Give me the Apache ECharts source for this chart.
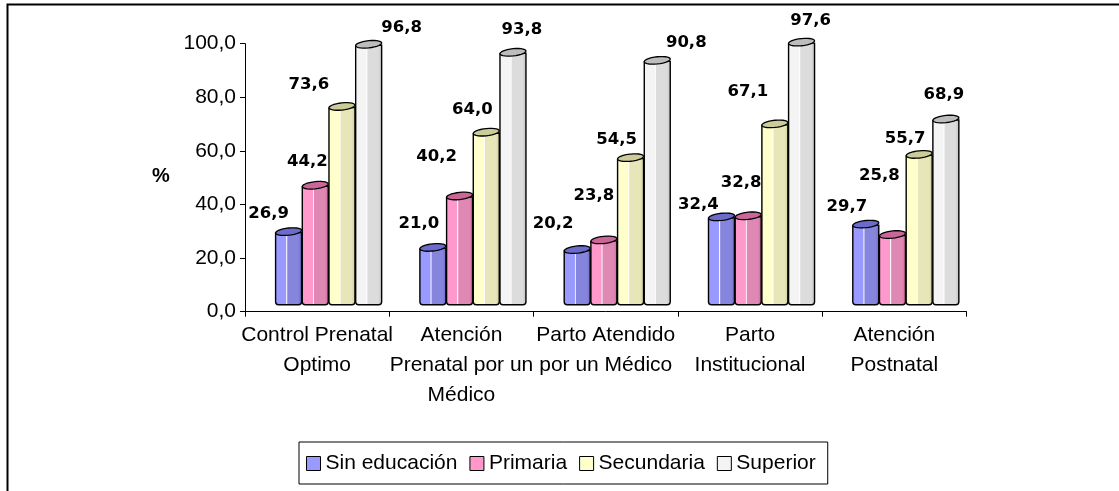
<!DOCTYPE html>
<html>
<head>
<meta charset="utf-8">
<script src="https://cdn.jsdelivr.net/npm/echarts@6/dist/echarts.min.js"></script>
<style>
html, body { margin: 0; padding: 0; background: #fff; }
#chart { width: 1119px; height: 491px; }
</style>
</head>
<body>
<div id="chart"></div>
<script>
// categories and values
var categories = [
    'Control Prenatal\nOptimo',
    'Atención\nPrenatal por un\nMédico',
    'Parto Atendido\npor un Médico',
    'Parto\nInstitucional',
    'Atención\nPostnatal'
];
var seriesNames = ['Sin educación', 'Primaria', 'Secundaria', 'Superior'];
var sinEducacion = [26.9, 21.0, 20.2, 32.4, 29.7];
var primaria = [44.2, 40.2, 23.8, 32.8, 25.8];
var secundaria = [73.6, 64.0, 54.5, 67.1, 55.7];
var superior = [96.8, 93.8, 90.8, 97.6, 68.9];
var yMin = 0, yMax = 100, yStep = 20;

// styling
var faceColors = ['#9999FF', '#FF99CC', '#FFFFCC', '#F4F4F4'];
var shadeColors = ['#8585DD', '#E088B4', '#E6E6B8', '#DCDCDC'];
var capColors = ['#6B6BCC', '#CC6699', '#CCCC99', '#BDBDBD'];
// where excel put each value label, relative to the bar top (px)
var labelNudge = [
    [[-20, -19], [-14, -25], [-24, -27], [-23, -13], [-19, -18]],
    [[-8, -25], [-23, -40], [-10, -45], [-7, -34], [-13, -60]],
    [[-33, -23], [-14, -23], [-14, -19], [-27, -33], [-14, -17]],
    [[33, -18], [9, -24], [29, -19], [9, -22], [-2, -25]]
];

var allValues = [sinEducacion, primaria, secundaria, superior];

function fmt(v) {
    return v.toFixed(1).replace('.', ',');
}

function makeRender(k) {
    return function (params, api) {
        var ci = api.value(0);
        var v = api.value(1);
        var top = api.coord([ci, v]);
        var base = api.coord([ci, 0]);
        var band = api.size([1, 0])[0];
        var w = band * 0.18;
        var left = top[0] - band / 2 + band * 0.212 + k * band * 0.185;
        var lift = 7;
        var yTop = top[1] - lift;
        var yBot = base[1] - lift;
        var cx = left + w / 2;

        // slanted oval for the bar top
        var pts = [];
        for (var i = 0; i < 28; i++) {
            var t = i / 28 * Math.PI * 2;
            var px = cx + Math.cos(t) * w / 2;
            pts.push([px, yTop - 1 + Math.sin(t) * 3.6 - (px - cx) * 0.1]);
        }
        var face = new echarts.graphic.LinearGradient(0, 0, 1, 0, [
            {offset: 0, color: faceColors[k]},
            {offset: 0.4, color: faceColors[k]},
            {offset: 0.43, color: '#FFFFFF'},
            {offset: 0.47, color: shadeColors[k]},
            {offset: 0.85, color: shadeColors[k]},
            {offset: 1, color: capColors[k]}
        ]);
        var nudge = labelNudge[k][ci];
        return {
            type: 'group',
            children: [
                {
                    type: 'rect',
                    shape: {x: left, y: yTop, width: w, height: yBot - yTop, r: [0, 0, 3, 3]},
                    style: {fill: face, stroke: '#000', lineWidth: 1.4}
                },
                {
                    type: 'polygon',
                    shape: {points: pts},
                    style: {fill: capColors[k], stroke: '#000', lineWidth: 1.3}
                },
                {
                    type: 'text',
                    style: {
                        text: fmt(v),
                        x: cx + nudge[0],
                        y: yTop + nudge[1],
                        align: 'center',
                        verticalAlign: 'middle',
                        fill: '#000',
                        fontFamily: 'DejaVu Sans',
                        fontWeight: 'bold',
                        fontSize: 16.5
                    }
                }
            ]
        };
    };
}

var dom = document.getElementById('chart');
var myChart = echarts.init(dom);
var option = null;

var series = [];
for (var k = 0; k < seriesNames.length; k++) {
    var data = [];
    for (var c = 0; c < categories.length; c++) {
        data.push([c, allValues[k][c]]);
    }
    series.push({
        name: seriesNames[k],
        type: 'custom',
        renderItem: makeRender(k),
        encode: {x: 0, y: 1},
        itemStyle: {color: faceColors[k], borderColor: '#000', borderWidth: 1},
        data: data,
        clip: false
    });
}

option = {
    animation: false,
    textStyle: {fontFamily: 'Liberation Sans'},
    grid: {left: 245, right: 152.5, top: 43.7, bottom: 179.3},
    xAxis: {
        type: 'category',
        data: categories,
        axisLine: {lineStyle: {color: '#000', width: 1}},
        axisTick: {show: true, length: 5, lineStyle: {color: '#000'}},
        axisLabel: {
            interval: 0,
            color: '#000',
            fontFamily: 'Liberation Sans',
            fontSize: 21,
            lineHeight: 30,
            margin: 9
        },
        splitLine: {show: false}
    },
    yAxis: {
        type: 'value',
        min: yMin,
        max: yMax,
        interval: yStep,
        axisLine: {show: true, lineStyle: {color: '#000', width: 1}},
        axisTick: {show: true, length: 5, lineStyle: {color: '#000'}},
        axisLabel: {
            color: '#000',
            fontFamily: 'Liberation Sans',
            fontSize: 21,
            margin: 9,
            formatter: function (v) { return fmt(v); }
        },
        splitLine: {show: false}
    },
    legend: {
        data: seriesNames,
        left: 299,
        top: 442,
        orient: 'horizontal',
        itemWidth: 14,
        itemHeight: 14,
        itemGap: 12,
        icon: 'rect',
        borderColor: '#000',
        borderWidth: 1,
        borderRadius: 0,
        padding: [11, 12, 10, 7],
        itemStyle: {borderColor: '#000', borderWidth: 1},
        textStyle: {color: '#000', fontSize: 21, fontFamily: 'Liberation Sans'}
    },
    graphic: [
        {
            type: 'polyline',
            shape: {points: [[7.5, 491], [7.5, 4.5], [1119, 4.5]]},
            style: {stroke: '#000', lineWidth: 2, fill: null}
        },
        {
            type: 'text',
            left: 152,
            top: 166,
            style: {
                text: '%',
                fontFamily: 'Liberation Sans',
                fontWeight: 'bold',
                fontSize: 20,
                fill: '#000'
            }
        }
    ],
    series: series
};

if (option && typeof option === "object") {
    myChart.setOption(option, true);
}
</script>
</body>
</html>
